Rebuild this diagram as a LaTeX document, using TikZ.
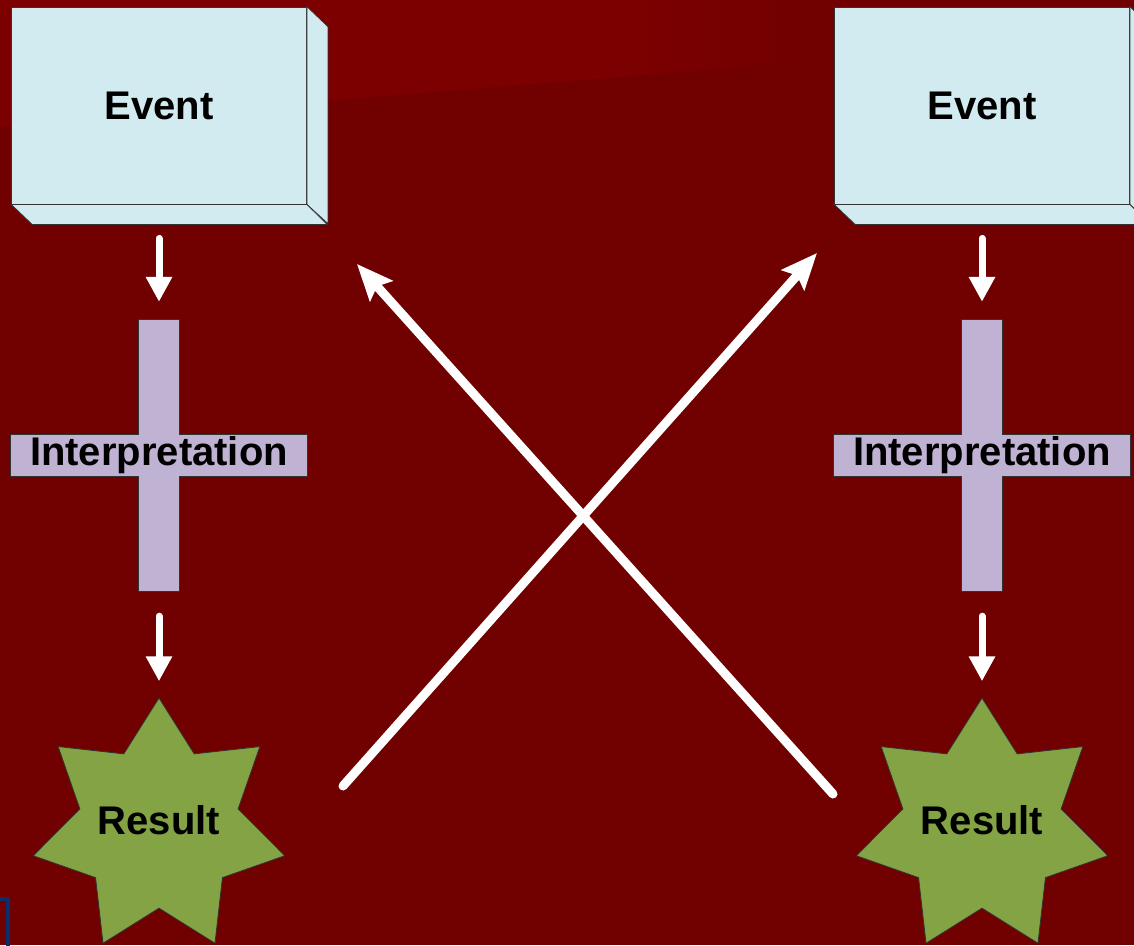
\documentclass[tikz,border=0pt]{standalone}
\usepackage{fontspec}
\setmainfont{Liberation Sans}
\usetikzlibrary{arrows.meta, shapes.geometric}

\newcommand\boxLabelFont{\bfseries\fontsize{40}{48}\selectfont}

\begin{document}
\begin{tikzpicture}[x=1pt, y=-1pt,
    eventface/.style={draw=black!80, line width=0.8pt, fill=eventColour,
        minimum width=295pt, minimum height=197pt, inner sep=0pt, font=\boxLabelFont},
    eventside/.style={draw=black!80, line width=0.8pt, fill=eventColour},
    crossbar/.style={inner sep=0pt},
    crossfill/.style={draw=black!80, line width=0.8pt, fill=crossColour},
    resultstar/.style={star, star points=7, star point ratio=1.59, minimum size=258pt,
        inner sep=0pt, draw=black!80, line width=0.8pt, fill=starColour},
    smallarrow/.style={white, line width=7pt, line cap=round, -{Triangle[length=25pt, width=25pt]}},
    bigarrow/.style={white, line width=9pt, line cap=round, -{Stealth[length=36pt, width=30pt, inset=6pt]}}]

    % Define colours
    \definecolor{bgDark}{HTML}{710000}
    \definecolor{bgLight}{HTML}{7C0000}
    \definecolor{eventColour}{HTML}{D2EBF0}
    \definecolor{crossColour}{HTML}{C0B2D2}
    \definecolor{starColour}{HTML}{84A345}
    \definecolor{cornerBlue}{HTML}{0B2F6E}

    % Fix the page size
    \useasboundingbox (0,0) rectangle (1134,945);
    \clip (0,0) rectangle (1134,945);

    % Background
    \fill[bgDark] (0,0) rectangle (1134,945);
    \fill[bgLight] (0,0) -- (620,0) -- (620,77) -- (0,127) -- cycle;
    \shade[left color=bgLight, right color=bgDark] (619,0) -- (820,0) -- (820,61) -- (619,77) -- cycle;

    % Blue corner
    \draw[cornerBlue, line width=4pt] (-5,899) -- (8,899) -- (8,950);

    % Two columns: event, interpretation, result
    \foreach \cx/\side in {159/L, 982/R} {
        % Event box with its 3D sides
        \node[eventface] (event\side) at (\cx,105.5) {Event};
        \filldraw[eventside] (event\side.north east) -- ++(21,20) -- ++(0,197) -- (event\side.south east) -- cycle;
        \filldraw[eventside] (event\side.south west) -- ++(21,20) -- ++(295,0) -- (event\side.south east) -- cycle;

        % Interpretation cross
        \coordinate (mid\side) at (\cx,455.5);
        \node[crossbar, minimum width=40pt, minimum height=271pt] (vbar\side) at (mid\side) {};
        \node[crossbar, minimum width=296pt, minimum height=41pt] (hbar\side) at (mid\side) {};
        \filldraw[crossfill] (vbar\side.north west) -- (vbar\side.north east)
            -- (vbar\side.east |- hbar\side.north) -- (hbar\side.north east)
            -- (hbar\side.south east) -- (vbar\side.east |- hbar\side.south)
            -- (vbar\side.south east) -- (vbar\side.south west)
            -- (vbar\side.west |- hbar\side.south) -- (hbar\side.south west)
            -- (hbar\side.north west) -- (vbar\side.west |- hbar\side.north) -- cycle;
        \node[font=\boxLabelFont] (interp\side) at (mid\side) {Interpretation};

        % Result star
        \node[resultstar] (result\side) at (\cx,827) {};
        \node[font=\boxLabelFont, anchor=base] (resultText\side) at ([yshift=-7pt]result\side.center) {Result};

        % Small arrows
        \draw[smallarrow, shorten <=34pt, shorten >=18pt] (event\side.south) -- (vbar\side.north);
        \draw[smallarrow, shorten <=25pt, shorten >=16pt] (vbar\side.south) -- (result\side.north);
    }

    % Crossing arrows
    \coordinate (riseFrom) at (343,786);
    \coordinate (riseTo) at (817,253);
    \coordinate (fallFrom) at (833,794);
    \coordinate (fallTo) at (357,264);
    \draw[bigarrow] (riseFrom) -- (riseTo);
    \draw[bigarrow] (fallFrom) -- (fallTo);

\end{tikzpicture}
\end{document}
